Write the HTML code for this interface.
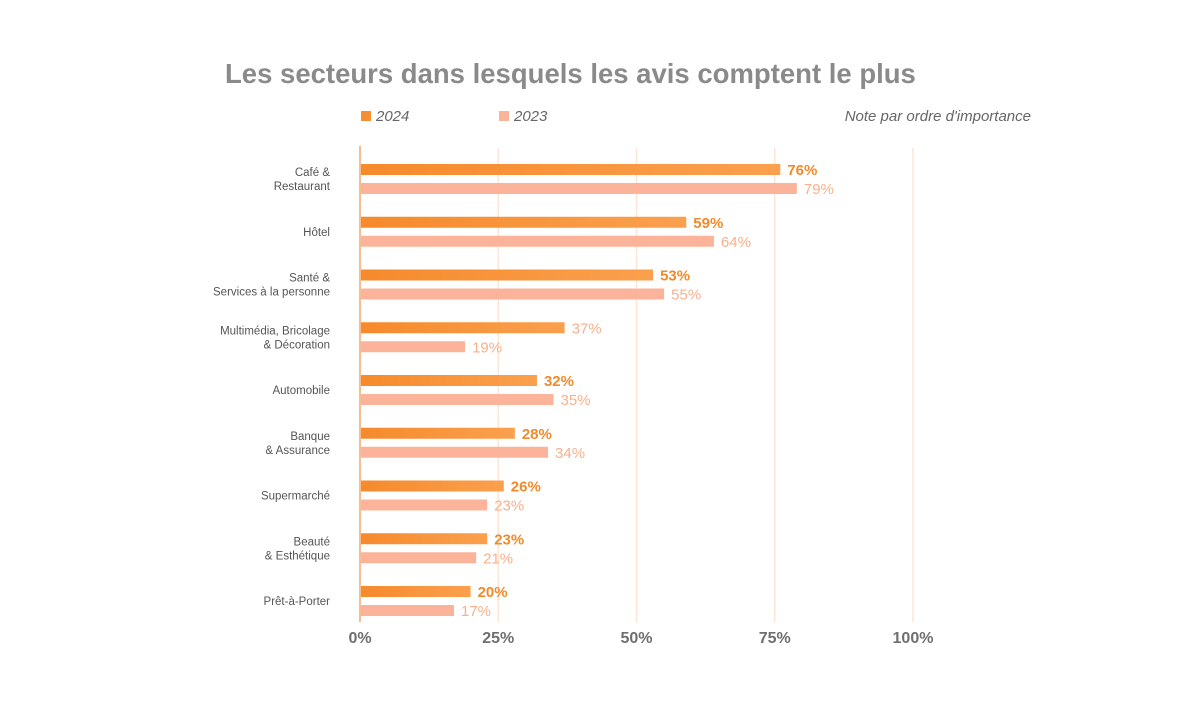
<!DOCTYPE html>
<html><head><meta charset="utf-8"><style>
body{margin:0;background:#fff;width:1200px;height:704px;overflow:hidden;font-family:"Liberation Sans",sans-serif}
svg text{font-family:"Liberation Sans",sans-serif}
</style></head><body>
<svg id="chart" width="1200" height="704" xmlns="http://www.w3.org/2000/svg">
<defs>
<linearGradient id="g24" x1="0" x2="1"><stop offset="0" stop-color="#f68a2c"/><stop offset="1" stop-color="#faa04e"/></linearGradient>
</defs>
<text x="225" y="83" font-size="27.5" font-weight="bold" fill="#8a8a8a">Les secteurs dans lesquels les avis comptent le plus</text>
<rect x="361" y="111" width="10" height="10" fill="#f68f33"/>
<text x="376" y="121" font-size="15" font-style="italic" fill="#666">2024</text>
<rect x="499" y="111" width="10" height="10" fill="#fbb49a"/>
<text x="514" y="121" font-size="15" font-style="italic" fill="#666">2023</text>
<text x="1031" y="121" font-size="15" font-style="italic" fill="#666" text-anchor="end">Note par ordre d'importance</text>
<g id="grid"></g><g id="bars"></g><g id="labels"></g>
</svg>
<script>
const categories=[["Café &","Restaurant"],["Hôtel"],["Santé &","Services à la personne"],["Multimédia, Bricolage","& Décoration"],["Automobile"],["Banque","& Assurance"],["Supermarché"],["Beauté","& Esthétique"],["Prêt-à-Porter"]];
const values2024=[76,59,53,37,32,28,26,23,20];
const values2023=[79,64,55,19,35,34,23,21,17];
const ticks=[0,25,50,75,100];
const tickLabels=["0%","25%","50%","75%","100%"];
const NS="http://www.w3.org/2000/svg";
const x=v=>360+v*5.53;
const y=i=>179+i*52.75;
function mk(tag,attrs,parent,txt){const e=document.createElementNS(NS,tag);for(const k in attrs)e.setAttribute(k,attrs[k]);if(txt!=null)e.textContent=txt;parent.appendChild(e);return e;}
const grid=document.getElementById('grid'),bars=document.getElementById('bars'),labels=document.getElementById('labels');
ticks.forEach((t,i)=>{
  if(t>0){const l=mk('line',{x1:x(t),x2:x(t),y1:148,y2:622,stroke:'#fde6d6','stroke-width':1.5},grid);
  
  }
  const tx=mk('text',{x:x(t),y:643,'font-size':16,'font-weight':'bold',fill:'#6f6f6f','text-anchor':'middle'},labels,tickLabels[i]);
  
  
});
const ax=mk('line',{x1:360,x2:360,y1:146,y2:622,stroke:'#f7a566','stroke-width':1.5},grid);


categories.forEach((c,i)=>{
  const cy=y(i);
  const b1=mk('rect',{x:361,y:cy-15,width:x(values2024[i])-361,height:11,fill:'url(#g24)'},bars);
  
  
  const b2=mk('rect',{x:361,y:cy+4,width:x(values2023[i])-361,height:11,fill:'#fbb49a'},bars);
  
  
  const v1=mk('text',{x:x(values2024[i])+7,y:cy-4,'font-size':15,'font-weight':i===3?'normal':'bold',fill:i===3?'#f9b08a':'#f28a2a'},labels,values2024[i]+'%');
  
  
  const v2=mk('text',{x:x(values2023[i])+7,y:cy+15,'font-size':15,fill:'#f9b08a'},labels,values2023[i]+'%');
  
  
  const n=c.length;
  c.forEach((line,j)=>{
    const t=mk('text',{x:330,y:cy+4+(j-(n-1)/2)*14,'font-size':11.5,fill:'#555','text-anchor':'end'},labels,line);
    
    
  });
});
</script>
</body></html>
